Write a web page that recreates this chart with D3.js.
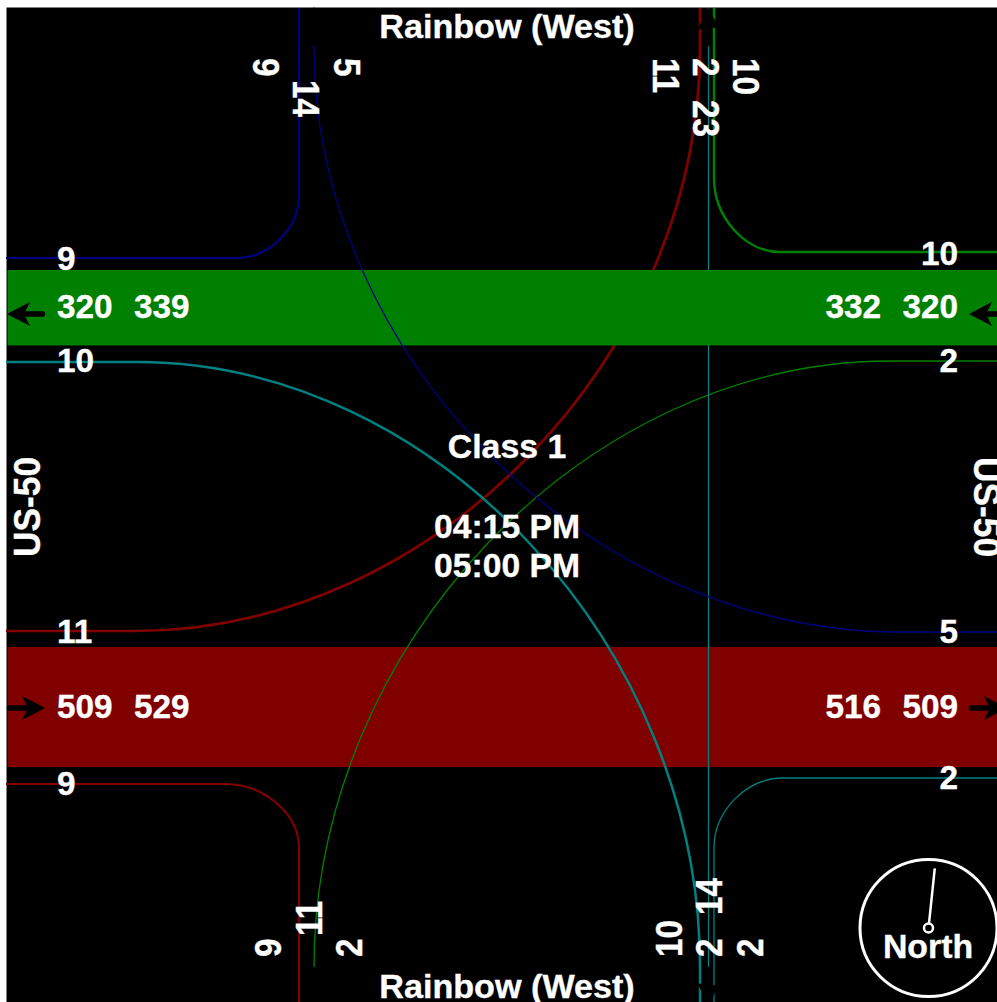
<!DOCTYPE html>
<html>
<head>
<meta charset="utf-8">
<script src="https://cdn.jsdelivr.net/npm/d3@7"></script>
<style>
html, body { margin: 0; padding: 0; background: #fff; overflow: hidden; }
text { font-family: "Liberation Sans", Arial, sans-serif; font-weight: bold; font-size: 33.33px; fill: #fff; stroke: #fff; stroke-width: 0.35px; }
</style>
</head>
<body>
<div id="graph"></div>
<script>
// counts
const streetNS = "Rainbow (West)";
const streetEW = "US-50";
const classTitle = "Class 1";
const timeLabels = ["04:15 PM", "05:00 PM"];

const bandNames = ["eastbound", "westbound"];
const bandVolumes = [509, 320];
const bandColors = ["#800000", "#008000"];
// [at the edge, through the middle] on each end of the road
const westEndCounts = [[509, 529], [320, 339]];
const eastEndCounts = [[516, 509], [332, 320]];

const movements = ["EB left", "EB right", "WB left", "WB right", "NB left", "NB through", "NB right", "SB right", "SB left"];
const movementVolumes = [11, 9, 2, 10, 10, 2, 2, 9, 5];

const northTotals = [14, 23];
const southTotals = [11, 14];

const northAngle = 6;

let width = 997, height = 1002;
let left = 7, top_ = 8;

let svg = d3.select("#graph")
    .append("svg")
    .attr("width", width)
    .attr("height", height)
    .style("display", "block");

// bands and lines share one scale: 509 vehicles is 120 pixels
let thickness = d3.scaleLinear().domain([0, 509]).range([0, 120]);

let bandTop = d3.scaleOrdinal().domain(bandNames).range([647, 270]);
let bandColor = d3.scaleOrdinal().domain(bandNames).range(bandColors);

// where each movement runs on the N-S and E-W legs and where it starts to bend
let laneX = d3.scaleOrdinal().domain(movements).range([700, 299, 314, 714, 700, 708.5, 714, 299, 314]);
let laneY = d3.scaleOrdinal().domain(movements).range([631, 784, 361, 252, 362, 0, 778, 258, 632]);
let turnX = d3.scaleOrdinal().domain(movements).range([135, 225, 890, 780, 137, 0, 783, 237, 900]);
let turnY = d3.scaleOrdinal().domain(movements).range([47, 848, 967, 178, 967, 0, 848, 195, 47]);
let edgeX = d3.scaleOrdinal().domain(movements).range([left - 1, left - 1, width, width, left - 1, 0, width, left - 1, width]);
let edgeY = d3.scaleOrdinal().domain(movements).range([top_, height, height, top_, height, 0, height, top_, top_]);
let moveColor = d3.scaleOrdinal().domain(movements)
    .range(["#800000", "#800000", "#008000", "#008000", "#008080", "#008080", "#008080", "#000080", "#000080"]);

const kappa = 0.53;

function movePath(m) {
    let p = d3.path();
    if (m === "NB through") {
        p.moveTo(laneX(m), top_);
        p.lineTo(laneX(m), height);
        return p.toString();
    }
    let lx = laneX(m), ly = laneY(m), tx = turnX(m), ty = turnY(m);
    p.moveTo(edgeX(m), ly);
    p.lineTo(tx, ly);
    p.bezierCurveTo(tx + (lx - tx) * kappa, ly, lx, ly + (ty - ly) * (1 - kappa), lx, ty);
    p.lineTo(lx, edgeY(m));
    return p.toString();
}

function drawBand(name) {
    svg.append("rect")
        .attr("x", left + 0.5)
        .attr("y", bandTop(name))
        .attr("width", width - left)
        .attr("height", thickness(bandVolumes[bandNames.indexOf(name)]))
        .attr("fill", bandColor(name));
}

function drawMoves(list) {
    svg.append("g").selectAll("path")
        .data(list)
        .enter()
        .append("path")
        .attr("d", movePath)
        .attr("fill", "none")
        .attr("stroke", function(d) { return moveColor(d); })
        .attr("stroke-width", function(d) {
            return Math.max(1.3, thickness(movementVolumes[movements.indexOf(d)]) * 1.05);
        });
}

svg.append("rect")
    .attr("x", left - 0.5)
    .attr("y", top_ - 0.5)
    .attr("width", width)
    .attr("height", height)
    .attr("fill", "#000");

// the draw order matters, the green band hides what runs under it
drawBand("eastbound");
drawMoves(["EB left", "EB right", "WB left", "WB right", "NB left", "NB through", "NB right"]);
drawBand("westbound");
drawMoves(["SB right", "SB left"]);

// arrows: tip at the origin pointing to -x, then rotated into place
function arrowPath() {
    let p = d3.path();
    p.moveTo(0, 0);
    p.lineTo(23, -12);
    p.lineTo(17, 0);
    p.lineTo(23, 12);
    p.closePath();
    return p.toString();
}

let arrows = [
    {x: left, y: 314, angle: 0},
    {x: 969, y: 314, angle: 0},
    {x: 45, y: 708, angle: 180},
    {x: 1007, y: 708, angle: 180},
    {x: 314, y: 7, angle: 90},
    {x: 708.5, y: 8, angle: 90},
    {x: 314, y: 1005, angle: -90},
    {x: 708.5, y: 1005, angle: -90}
];

let arrowGroups = svg.append("g").selectAll("g")
    .data(arrows)
    .enter()
    .append("g")
    .attr("transform", function(d) { return `translate(${d.x}, ${d.y}) rotate(${d.angle})`; });

arrowGroups.append("path")
    .attr("d", arrowPath())
    .attr("fill", "#000");

arrowGroups.append("line")
    .attr("x1", 10)
    .attr("x2", 35.5)
    .attr("stroke", "#000")
    .attr("stroke-width", 5.5)
    .attr("stroke-linecap", "round");

// the reference stretches its turned text across the baseline, sy handles that
function addText(str, x, y, anchor, angle, sx) {
    let sy = angle ? 1.12 : 1;
    svg.append("text")
        .attr("transform", `translate(${x}, ${y}) rotate(${angle || 0}) scale(${sx || 1}, ${sy})`)
        .style("text-anchor", anchor)
        .text(str);
}

function vol(m) { return movementVolumes[movements.indexOf(m)]; }

// street names and center block
addText(streetNS, 507, 38, "middle", 0, 1.025);
addText(streetNS, 507, 998, "middle", 0, 1.025);
addText(streetEW, 40, 507, "middle", -90, 1.06);
addText(streetEW, 974, 507, "middle", 90, 1.06);
addText(classTitle, 507, 458, "middle", 0, 1.015);
addText(timeLabels[0], 507, 538, "middle", 0, 1.01);
addText(timeLabels[1], 507, 577, "middle", 0, 1.01);

// band counts
addText(westEndCounts[0][0], 57, 718, "start");
addText(westEndCounts[0][1], 134, 718, "start");
addText(eastEndCounts[0][0], 881, 718, "end");
addText(eastEndCounts[0][1], 958, 718, "end");
addText(westEndCounts[1][0], 57, 318, "start");
addText(westEndCounts[1][1], 134, 318, "start");
addText(eastEndCounts[1][0], 881, 318, "end");
addText(eastEndCounts[1][1], 958, 318, "end");

// west leg
addText(vol("SB right"), 57, 270, "start");
addText(vol("NB left"), 57, 372, "start");
addText(vol("EB left"), 57, 643, "start");
addText(vol("EB right"), 57, 795, "start");

// east leg
addText(vol("WB right"), 958, 265, "end");
addText(vol("WB left"), 958, 372, "end");
addText(vol("SB left"), 958, 643, "end");
addText(vol("NB right"), 958, 789, "end");

// north leg
addText(vol("SB right"), 253, 58, "start", 90);
addText(vol("SB left"), 334, 58, "start", 90);
addText(northTotals[0], 293, 80, "start", 90);
addText(vol("EB left"), 653, 58, "start", 90);
addText(vol("NB through"), 693, 58, "start", 90);
addText(vol("WB right"), 733, 58, "start", 90);
addText(northTotals[1], 693, 100, "start", 90);

// south leg
addText(vol("EB right"), 281, 957, "start", -90);
addText(vol("WB left"), 362, 957, "start", -90);
addText(southTotals[0], 322, 936, "start", -90);
addText(vol("NB left"), 682, 957, "start", -90);
addText(vol("NB through"), 722, 957, "start", -90);
addText(vol("NB right"), 763, 957, "start", -90);
addText(southTotals[1], 722, 915, "start", -90);

// compass
let compass = svg.append("g").attr("transform", "translate(928.5, 928)");

compass.append("circle")
    .attr("r", 68.5)
    .attr("fill", "none")
    .attr("stroke", "#fff")
    .attr("stroke-width", 3);

compass.append("line")
    .attr("transform", `rotate(${northAngle})`)
    .attr("y1", -5)
    .attr("y2", -60)
    .attr("stroke", "#fff")
    .attr("stroke-width", 2.5);

compass.append("circle")
    .attr("r", 4.5)
    .attr("fill", "none")
    .attr("stroke", "#fff")
    .attr("stroke-width", 2.5);

addText("North", 928, 958, "middle", 0, 1.015);
</script>
</body>
</html>
